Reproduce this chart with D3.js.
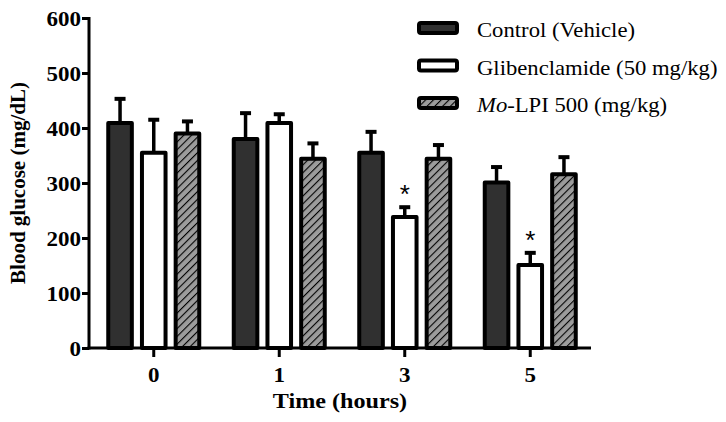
<!DOCTYPE html>
<html>
<head>
<meta charset="utf-8">
<script src="https://cdn.jsdelivr.net/npm/d3@7"></script>
<style>
  body { margin: 0; background: #fff; }
  svg text { font-family: "Liberation Serif", "Times New Roman", serif; fill: #000; }
</style>
</head>
<body>
<svg id="chart" width="726" height="422"></svg>
<script>
// data
const times = ["0", "1", "3", "5"];
const seriesNames = ["Control (Vehicle)", "Glibenclamide (50 mg/kg)", "Mo-LPI 500 (mg/kg)"];
const control = [409, 380, 355, 301];
const controlErr = [453, 427, 393, 329];
const gliben = [355, 409, 238, 151];
const glibenErr = [415, 425, 256, 173];
const moLpi = [390, 344, 344, 316];
const moLpiErr = [412, 372, 369, 347];
const significant = [[], [], ["gliben"], ["gliben"]];
const yTicks = [0, 100, 200, 300, 400, 500, 600];

const series = [
  { key: "control", values: control, err: controlErr, fill: "#303030" },
  { key: "gliben", values: gliben, err: glibenErr, fill: "#ffffff" },
  { key: "mo", values: moLpi, err: moLpiErr, fill: "url(#hatch)" }
];

// the original figure is a bit wider than tall, text looks stretched
function stretch(sel, k) {
  sel.each(function () {
    const t = d3.select(this);
    const x = +t.attr("x") || 0;
    const yy = +t.attr("y") || 0;
    t.attr("x", 0).attr("y", 0)
      .attr("transform", `translate(${x},${yy}) scale(${k || 1.15},1)`);
  });
}

const svg = d3.select("#chart");

// hatch pattern for Mo-LPI
const defs = svg.append("defs");
const pat = defs.append("pattern")
  .attr("id", "hatch")
  .attr("patternUnits", "userSpaceOnUse")
  .attr("width", 5.5).attr("height", 5.5)
  .attr("patternTransform", "rotate(45)");
pat.append("rect").attr("width", 5.5).attr("height", 5.5).attr("fill", "#9c9c9c");
pat.append("line").attr("x1", 0).attr("y1", 0).attr("x2", 0).attr("y2", 5.5)
  .attr("stroke", "#000").attr("stroke-width", 2.2);

const x0 = d3.scaleBand().domain(times).range([91, 593]);
const groupW = 91;
const x1 = d3.scaleBand().domain(series.map(s => s.key)).range([0, groupW]).paddingInner(0.3);
const y = d3.scaleLinear().domain([0, 600]).range([348, 18]);

// bars
const groups = svg.selectAll("g.grp")
  .data(times)
  .join("g")
  .attr("class", "grp")
  .attr("transform", d => `translate(${x0(d) + (x0.bandwidth() - groupW) / 2},0)`);

groups.each(function (t, i) {
  const g = d3.select(this);
  series.forEach(s => {
    const bx = x1(s.key);
    const w = x1.bandwidth();
    const cx = bx + w / 2;
    // error bar (upper only)
    g.append("line")
      .attr("x1", cx).attr("x2", cx)
      .attr("y1", y(s.values[i])).attr("y2", y(s.err[i]))
      .attr("stroke", "#000").attr("stroke-width", 3.5);
    g.append("line")
      .attr("x1", cx - 5.5).attr("x2", cx + 5.5)
      .attr("y1", y(s.err[i])).attr("y2", y(s.err[i]))
      .attr("stroke", "#000").attr("stroke-width", 4);
    g.append("rect")
      .attr("x", bx).attr("width", w)
      .attr("y", y(s.values[i]))
      .attr("height", y(0) - y(s.values[i]))
      .attr("fill", s.fill)
      .attr("stroke", "#000").attr("stroke-width", 4)
      .attr("stroke-linejoin", "round");
    if (significant[i].includes(s.key)) {
      g.append("text")
        .attr("x", cx).attr("y", y(s.err[i]) - 4)
        .attr("text-anchor", "middle")
        .style("font-family", "Liberation Sans, sans-serif")
        .attr("font-size", 26)
        .text("*");
    }
  });
});

// y axis
const yAxis = svg.append("g")
  .attr("transform", "translate(89,0)")
  .call(d3.axisLeft(y).tickValues(yTicks).tickSize(7).tickPadding(1));
yAxis.select(".domain").attr("stroke-width", 3).attr("d", `M0,${y(600) - 1}V${y(0) + 1.5}`);
yAxis.selectAll(".tick line").attr("stroke-width", 3);
yAxis.selectAll(".tick text")
  .attr("font-size", 20).attr("font-weight", "bold")
  .attr("dy", null).attr("y", 7);
stretch(yAxis.selectAll(".tick text"));

// x axis
const xAxis = svg.append("g")
  .attr("transform", `translate(0,${y(0)})`)
  .call(d3.axisBottom(x0).tickSize(9));
xAxis.select(".domain").attr("stroke-width", 3).attr("d", "M87.5,0H591");
xAxis.selectAll(".tick line").attr("stroke-width", 3).attr("y1", 2);
xAxis.selectAll(".tick text")
  .attr("font-size", 20).attr("font-weight", "bold")
  .attr("dy", null).attr("y", 34);
stretch(xAxis.selectAll(".tick text"));

// axis titles
const xTitle = svg.append("text")
  .attr("x", 340).attr("y", 408)
  .attr("text-anchor", "middle")
  .attr("font-size", 21).attr("font-weight", "bold")
  .text("Time (hours)");
stretch(xTitle);

svg.append("text")
  .attr("transform", "translate(25,183) rotate(-90)")
  .attr("text-anchor", "middle")
  .attr("font-size", 21).attr("font-weight", "bold")
  .text("Blood glucose (mg/dL)");

// legend
const legend = svg.append("g").attr("transform", "translate(419,28)");
series.forEach((s, i) => {
  const ly = i * 37.5;
  legend.append("rect")
    .attr("x", 0).attr("y", ly - 5).attr("width", 38).attr("height", 10)
    .attr("rx", 2)
    .attr("fill", s.fill)
    .attr("stroke", "#000").attr("stroke-width", 4)
    .attr("stroke-linejoin", "round");
  const t = legend.append("text")
    .attr("x", 58).attr("y", ly + 9)
    .attr("font-size", 21);
  if (s.key === "mo") {
    t.append("tspan").attr("font-style", "italic").text("Mo");
    t.append("tspan").text("-LPI 500 (mg/kg)");
  } else {
    t.text(seriesNames[i]);
  }
  stretch(t, 1.08);
});
</script>
</body>
</html>
